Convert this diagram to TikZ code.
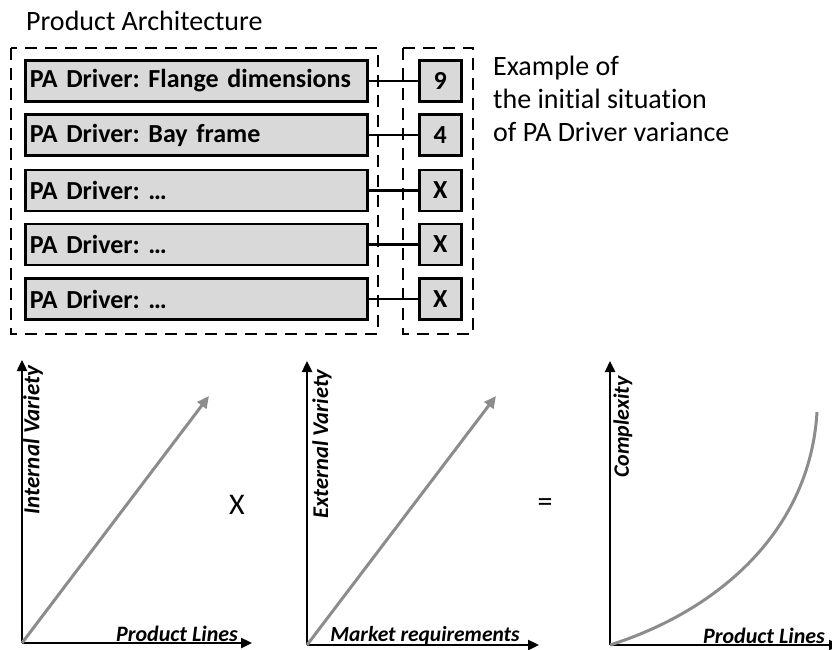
\documentclass[tikz,border=0pt]{standalone}
\usepackage{fontspec}
\setmainfont{Carlito}[Ligatures=NoCommon]
\usetikzlibrary{arrows.meta}
\definecolor{boxfill}{RGB}{217,217,217}
\definecolor{curvegray}{RGB}{140,140,140}
\frenchspacing
\begin{document}
\begin{tikzpicture}[x=1pt,y=-1pt,
  driver/.style={draw=black, line width=2.6pt, fill=boxfill, minimum width=342pt,
    minimum height=41pt, inner sep=0pt, anchor=west, font=\fontsize{26}{28}\selectfont\bfseries,
    text width=333pt, align=left},
  count/.style={draw=black, line width=2.6pt, fill=boxfill, minimum width=42pt,
    minimum height=41pt, inner sep=0pt, anchor=west, font=\fontsize{26}{28}\selectfont\bfseries},
  group/.style={draw=black, line width=2.6pt, dash pattern=on 12pt off 8pt},
  link/.style={draw=black, line width=2.4pt},
  axis/.style={draw=black, line width=2.4pt, -{Triangle[length=11pt,width=10pt]}},
  trend/.style={draw=curvegray, line width=3pt},
  axislabel/.style={font=\fontsize{22}{24}\selectfont\bfseries\itshape, inner sep=0pt},
  plain/.style={font=\fontsize{28}{33}\selectfont, inner sep=0pt}]
\useasboundingbox (0,0) rectangle (832,650);

% title
\node[plain, anchor=west] (title) at (26,21) {Product Architecture};

% dashed groups
\draw[group] (11,48) rectangle (378,334);
\draw[group] (403,48) rectangle (473,334);

% driver rows and their counts
\foreach \i/\y/\t/\n in {1/81/{PA Driver: Flange dimensions}/9,
                         2/135/{PA Driver: Bay frame}/4,
                         3/190.5/{PA Driver: \dots}/X,
                         4/244.5/{PA Driver: \dots}/X,
                         5/299/{PA Driver: \dots}/X} {
  \node[driver] (d\i) at (24,\y) {\t};
  \node[count] (v\i) at (418,\y) {\n};
  \draw[link] (d\i.east) -- (v\i.west);
}

% note
\node[plain, anchor=north west, align=left] (note) at (493,56)
  {Example of\\the initial situation\\of PA Driver variance};

% chart 1: internal variety
\coordinate (o1) at (22,643);
\coordinate (y1) at (22,360);
\coordinate (x1) at (252,643);
\coordinate (t1) at (209,396);
\draw[axis] (o1) -- (y1);
\draw[axis] (o1) -- (x1);
\draw[trend, -{Triangle[length=12pt,width=11pt]}] (o1) -- (t1);
\node[axislabel, font=\fontsize{23}{25}\selectfont\bfseries\itshape, rotate=90] (l1y) at (33,440) {Internal Variety};
\node[axislabel] (l1x) at (177,634) {Product Lines};
\node[font=\fontsize{30}{32}\selectfont, inner sep=0pt] (times) at (237,505) {X};

% chart 2: external variety
\coordinate (o2) at (307,645);
\coordinate (y2) at (307,361);
\coordinate (x2) at (539,645);
\coordinate (t2) at (496,396);
\draw[axis] (o2) -- (y2);
\draw[axis] (o2) -- (x2);
\draw[trend, -{Triangle[length=12pt,width=11pt]}] (o2) -- (t2);
\node[axislabel, font=\fontsize{22.5}{24}\selectfont\bfseries\itshape, rotate=90] (l2y) at (322,444) {External Variety};
\node[axislabel, font=\fontsize{21.5}{23}\selectfont\bfseries\itshape] (l2x) at (425,636) {Market requirements};
\node[font=\fontsize{30}{32}\selectfont, inner sep=0pt] (equals) at (545,505) {=};

% chart 3: complexity
\coordinate (o3) at (610,645);
\coordinate (y3) at (610,361);
\coordinate (x3) at (840,645);
\coordinate (t3) at (817,412);
\draw[axis] (o3) -- (y3);
\draw[axis] (o3) -- (x3);
\draw[trend] (o3) .. controls (720,610) and (810,530) .. (t3);
\node[axislabel, rotate=90] (l3y) at (623,427) {Complexity};
\node[axislabel] (l3x) at (764,636) {Product Lines};
\end{tikzpicture}
\end{document}
